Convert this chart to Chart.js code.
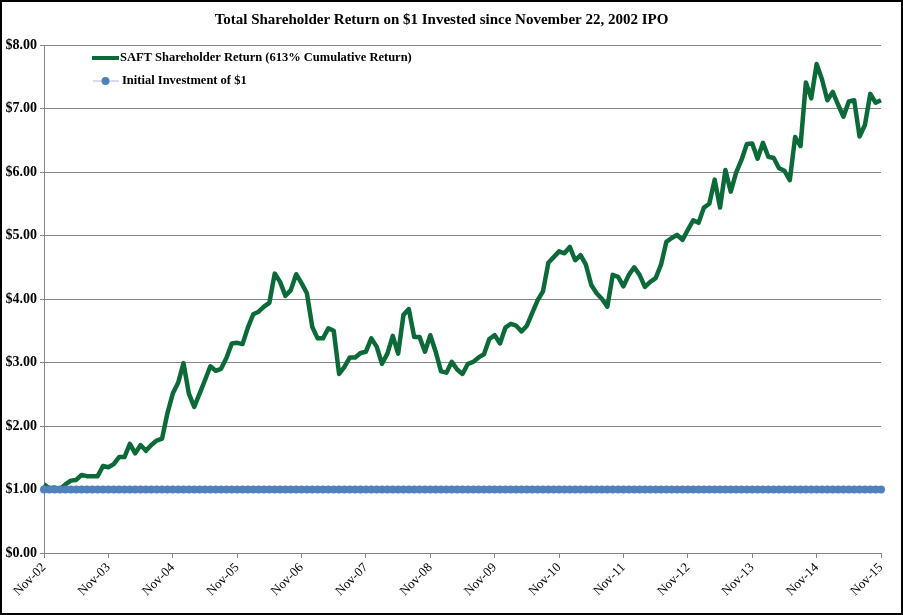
<!DOCTYPE html>
<html>
<head>
<meta charset="utf-8">
<script src="https://cdn.jsdelivr.net/npm/chart.js@4.4.1/dist/chart.umd.min.js"></script>
<style>
  html, body { margin: 0; padding: 0; background: #fff; }
  #wrap { width: 903px; height: 615px; border: 2px solid #000; box-sizing: border-box; }
  canvas { display: block; }
</style>
</head>
<body>
<div id="wrap"><canvas id="myChart" width="899" height="611"></canvas></div>
<script>
// categories: monthly from Nov-02 to Nov-15
var months = ['Nov', 'Dec', 'Jan', 'Feb', 'Mar', 'Apr', 'May', 'Jun', 'Jul', 'Aug', 'Sep', 'Oct'];
var startYear = 2002;
var monthCount = 157;

// SAFT shareholder return, value of $1 at each month end
var saftReturn = [
  1.08, 1.02, 1.03, 1.01, 1.08, 1.14, 1.15, 1.23, 1.21, 1.21, 1.21, 1.37,
  1.35, 1.40, 1.51, 1.51, 1.72, 1.57, 1.70, 1.61, 1.70, 1.77, 1.80, 2.20,
  2.51, 2.68, 2.99, 2.51, 2.30, 2.51, 2.72, 2.94, 2.87, 2.90, 3.07, 3.30,
  3.31, 3.29, 3.55, 3.76, 3.80, 3.88, 3.94, 4.40, 4.27, 4.05, 4.14, 4.39,
  4.25, 4.09, 3.56, 3.38, 3.38, 3.54, 3.50, 2.82, 2.93, 3.08, 3.08, 3.15,
  3.17, 3.38, 3.25, 2.98, 3.14, 3.42, 3.14, 3.75, 3.84, 3.40, 3.40, 3.17,
  3.43, 3.17, 2.86, 2.84, 3.01, 2.89, 2.82, 2.98, 3.01, 3.08, 3.13, 3.37,
  3.43, 3.30, 3.55, 3.61, 3.58, 3.49, 3.58, 3.78, 3.98, 4.12, 4.57, 4.66,
  4.75, 4.72, 4.82, 4.61, 4.69, 4.54, 4.22, 4.09, 4.00, 3.88, 4.38, 4.35,
  4.20, 4.38, 4.50, 4.38, 4.19, 4.27, 4.33, 4.54, 4.90, 4.96, 5.01, 4.93,
  5.09, 5.24, 5.20, 5.44, 5.50, 5.88, 5.44, 6.03, 5.69, 5.99, 6.19, 6.44,
  6.45, 6.21, 6.46, 6.24, 6.22, 6.06, 6.02, 5.87, 6.55, 6.41, 7.41, 7.16,
  7.70, 7.46, 7.13, 7.26, 7.06, 6.87, 7.11, 7.13, 6.56, 6.74, 7.23, 7.09,
  7.13
];

// initial investment of $1
var initialInvestment = [
  1, 1, 1, 1, 1, 1, 1, 1, 1, 1, 1, 1,
  1, 1, 1, 1, 1, 1, 1, 1, 1, 1, 1, 1,
  1, 1, 1, 1, 1, 1, 1, 1, 1, 1, 1, 1,
  1, 1, 1, 1, 1, 1, 1, 1, 1, 1, 1, 1,
  1, 1, 1, 1, 1, 1, 1, 1, 1, 1, 1, 1,
  1, 1, 1, 1, 1, 1, 1, 1, 1, 1, 1, 1,
  1, 1, 1, 1, 1, 1, 1, 1, 1, 1, 1, 1,
  1, 1, 1, 1, 1, 1, 1, 1, 1, 1, 1, 1,
  1, 1, 1, 1, 1, 1, 1, 1, 1, 1, 1, 1,
  1, 1, 1, 1, 1, 1, 1, 1, 1, 1, 1, 1,
  1, 1, 1, 1, 1, 1, 1, 1, 1, 1, 1, 1,
  1, 1, 1, 1, 1, 1, 1, 1, 1, 1, 1, 1,
  1, 1, 1, 1, 1, 1, 1, 1, 1, 1, 1, 1,
  1
];

var yTicks = [0, 1, 2, 3, 4, 5, 6, 7, 8];

var labels = [];
for (var i = 0; i < monthCount; i++) {
  var yr = startYear + Math.floor((i + 10) / 12);
  labels.push(months[i % 12] + '-' + String(yr % 100).padStart(2, '0'));
}

var serif = '"Liberation Serif", "Times New Roman", serif';
var greenColor = '#0B6A38';
var blueColor = '#4F81BD';
var gridColor = '#868686';

// legend drawn inside the plot area, top left
var innerLegend = {
  id: 'innerLegend',
  afterDraw: function (chart) {
    var c = chart.ctx;
    var ds = chart.data.datasets;
    c.save();
    c.font = 'bold 12.5px ' + serif;
    c.fillStyle = '#000';
    c.textBaseline = 'middle';
    // green series
    c.strokeStyle = ds[0].borderColor;
    c.lineWidth = 4;
    c.beginPath(); c.moveTo(90, 56); c.lineTo(117, 56); c.stroke();
    c.fillText(ds[0].label, 118, 56);
    // blue series
    c.strokeStyle = ds[1].borderColor;
    c.lineWidth = 1;
    c.beginPath(); c.moveTo(91, 79); c.lineTo(117, 79); c.stroke();
    c.fillStyle = ds[1].pointBackgroundColor;
    c.beginPath(); c.arc(103.5, 79, 4, 0, Math.PI * 2); c.fill();
    c.fillStyle = '#000';
    c.fillText(ds[1].label, 120, 79);
    c.restore();
  }
};

var ctx = document.getElementById('myChart');
var myChart = new Chart(ctx, {
  type: 'line',
  data: {
    labels: labels,
    datasets: [{
      label: 'SAFT Shareholder Return (613% Cumulative Return)',
      data: saftReturn,
      borderColor: greenColor,
      borderWidth: 4.5,
      borderJoinStyle: 'round',
      pointRadius: 0,
      tension: 0,
      order: 1
    }, {
      label: 'Initial Investment of $1',
      data: initialInvestment,
      borderColor: '#A9B8D4',
      borderWidth: 1,
      pointRadius: 4,
      pointBorderWidth: 0,
      pointBackgroundColor: blueColor,
      tension: 0,
      order: 0
    }]
  },
  options: {
    responsive: false,
    animation: false,
    devicePixelRatio: 1,
    layout: { padding: { left: 0, right: 20, top: 0, bottom: 0 } },
    plugins: {
      legend: { display: false },
      tooltip: { enabled: false },
      title: {
        display: true,
        text: 'Total Shareholder Return on $1 Invested since November 22, 2002 IPO',
        color: '#000',
        font: { family: serif, size: 15, weight: 'bold' },
        padding: { top: 9, bottom: 16 }
      }
    },
    scales: {
      x: {
        offset: false,
        afterFit: function (scale) { scale.height = 60; },
        border: { color: gridColor, width: 1 },
        grid: {
          drawOnChartArea: false,
          drawTicks: true,
          tickLength: 5,
          color: function (c) { return c.index % 12 === 0 ? gridColor : 'rgba(0,0,0,0)'; }
        },
        ticks: {
          autoSkip: false,
          minRotation: 45,
          maxRotation: 45,
          padding: 2,
          color: '#000',
          font: { family: serif, size: 13 },
          callback: function (val, idx) { return idx % 12 === 0 ? labels[idx] : ''; }
        }
      },
      y: {
        min: 0,
        max: 8,
        afterFit: function (scale) { scale.width = 42; },
        afterBuildTicks: function (scale) {
          scale.ticks = yTicks.map(function (v) { return { value: v }; });
        },
        border: { color: gridColor, width: 1 },
        grid: { color: gridColor, lineWidth: 1, tickLength: 4 },
        ticks: {
          padding: 3,
          color: '#000',
          font: { family: serif, size: 14, weight: 'bold' },
          callback: function (v) { return '$' + Number(v).toFixed(2); }
        }
      }
    }
  },
  plugins: [innerLegend]
});
</script>
</body>
</html>
